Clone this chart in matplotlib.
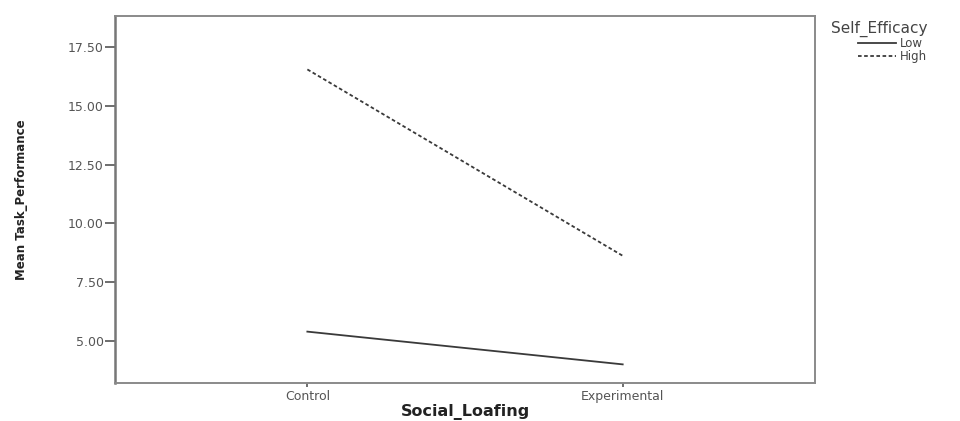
import matplotlib.pyplot as plt
from matplotlib.ticker import FixedLocator

# Datos
categorias = ["Control", "Experimental"]
bajo = [5.41, 4.02]
alto = [16.54, 8.63]
y_ticks = [5.0, 7.5, 10.0, 12.5, 15.0, 17.5]

fig = plt.figure(figsize=(9.6, 4.21), dpi=100)
ax = fig.add_axes([0.1198, 0.0903, 0.7292, 0.8724])

x = range(len(categorias))
ax.plot(x, bajo, color="#3a3a3a", lw=1.3, ls="-", label="Low")
ax.plot(x, alto, color="#3a3a3a", lw=1.3, ls=(0, (2, 1.4)), label="High")

ax.set_xlim(-0.61, 1.61)
ax.set_ylim(3.23, 18.82)
ax.set_xticks(list(x))
ax.set_xticklabels(categorias)
ax.yaxis.set_major_locator(FixedLocator(y_ticks))
ax.set_yticklabels([f"{v:.2f}" for v in y_ticks])

for s in ax.spines.values():
    s.set_color("#8a8a8a")
    s.set_linewidth(1.4)
ax.spines["left"].set_color("#777777")
ax.spines["left"].set_linewidth(1.8)
ax.tick_params(axis="both", colors="#555555", labelcolor="#555555",
               labelsize=9, width=1.2, direction="out")
ax.tick_params(axis="y", length=7, pad=1)
ax.tick_params(axis="x", length=3, pad=2)

ax.set_xlabel("Social_Loafing", fontsize=11.5, fontweight="bold",
              color="#222222", va="center")
ax.xaxis.set_label_coords(0.5, -0.08)
ax.set_ylabel("Mean Task_Performance", fontsize=8.5, fontweight="bold",
              color="#222222", va="center")
ax.yaxis.set_label_coords(-0.133, 0.5)

leg = fig.legend(loc="upper left", bbox_to_anchor=(0.857, 0.97),
                 title="Self_Efficacy", fontsize=8.5, title_fontsize=11,
                 frameon=False, handlelength=3.2, handletextpad=0.4,
                 labelspacing=0.0, borderpad=0.2)
leg._legend_box.align = "right"
for t in leg.get_texts():
    t.set_color("#444444")
leg.get_title().set_color("#444444")

plt.savefig("out.png", dpi=100)
